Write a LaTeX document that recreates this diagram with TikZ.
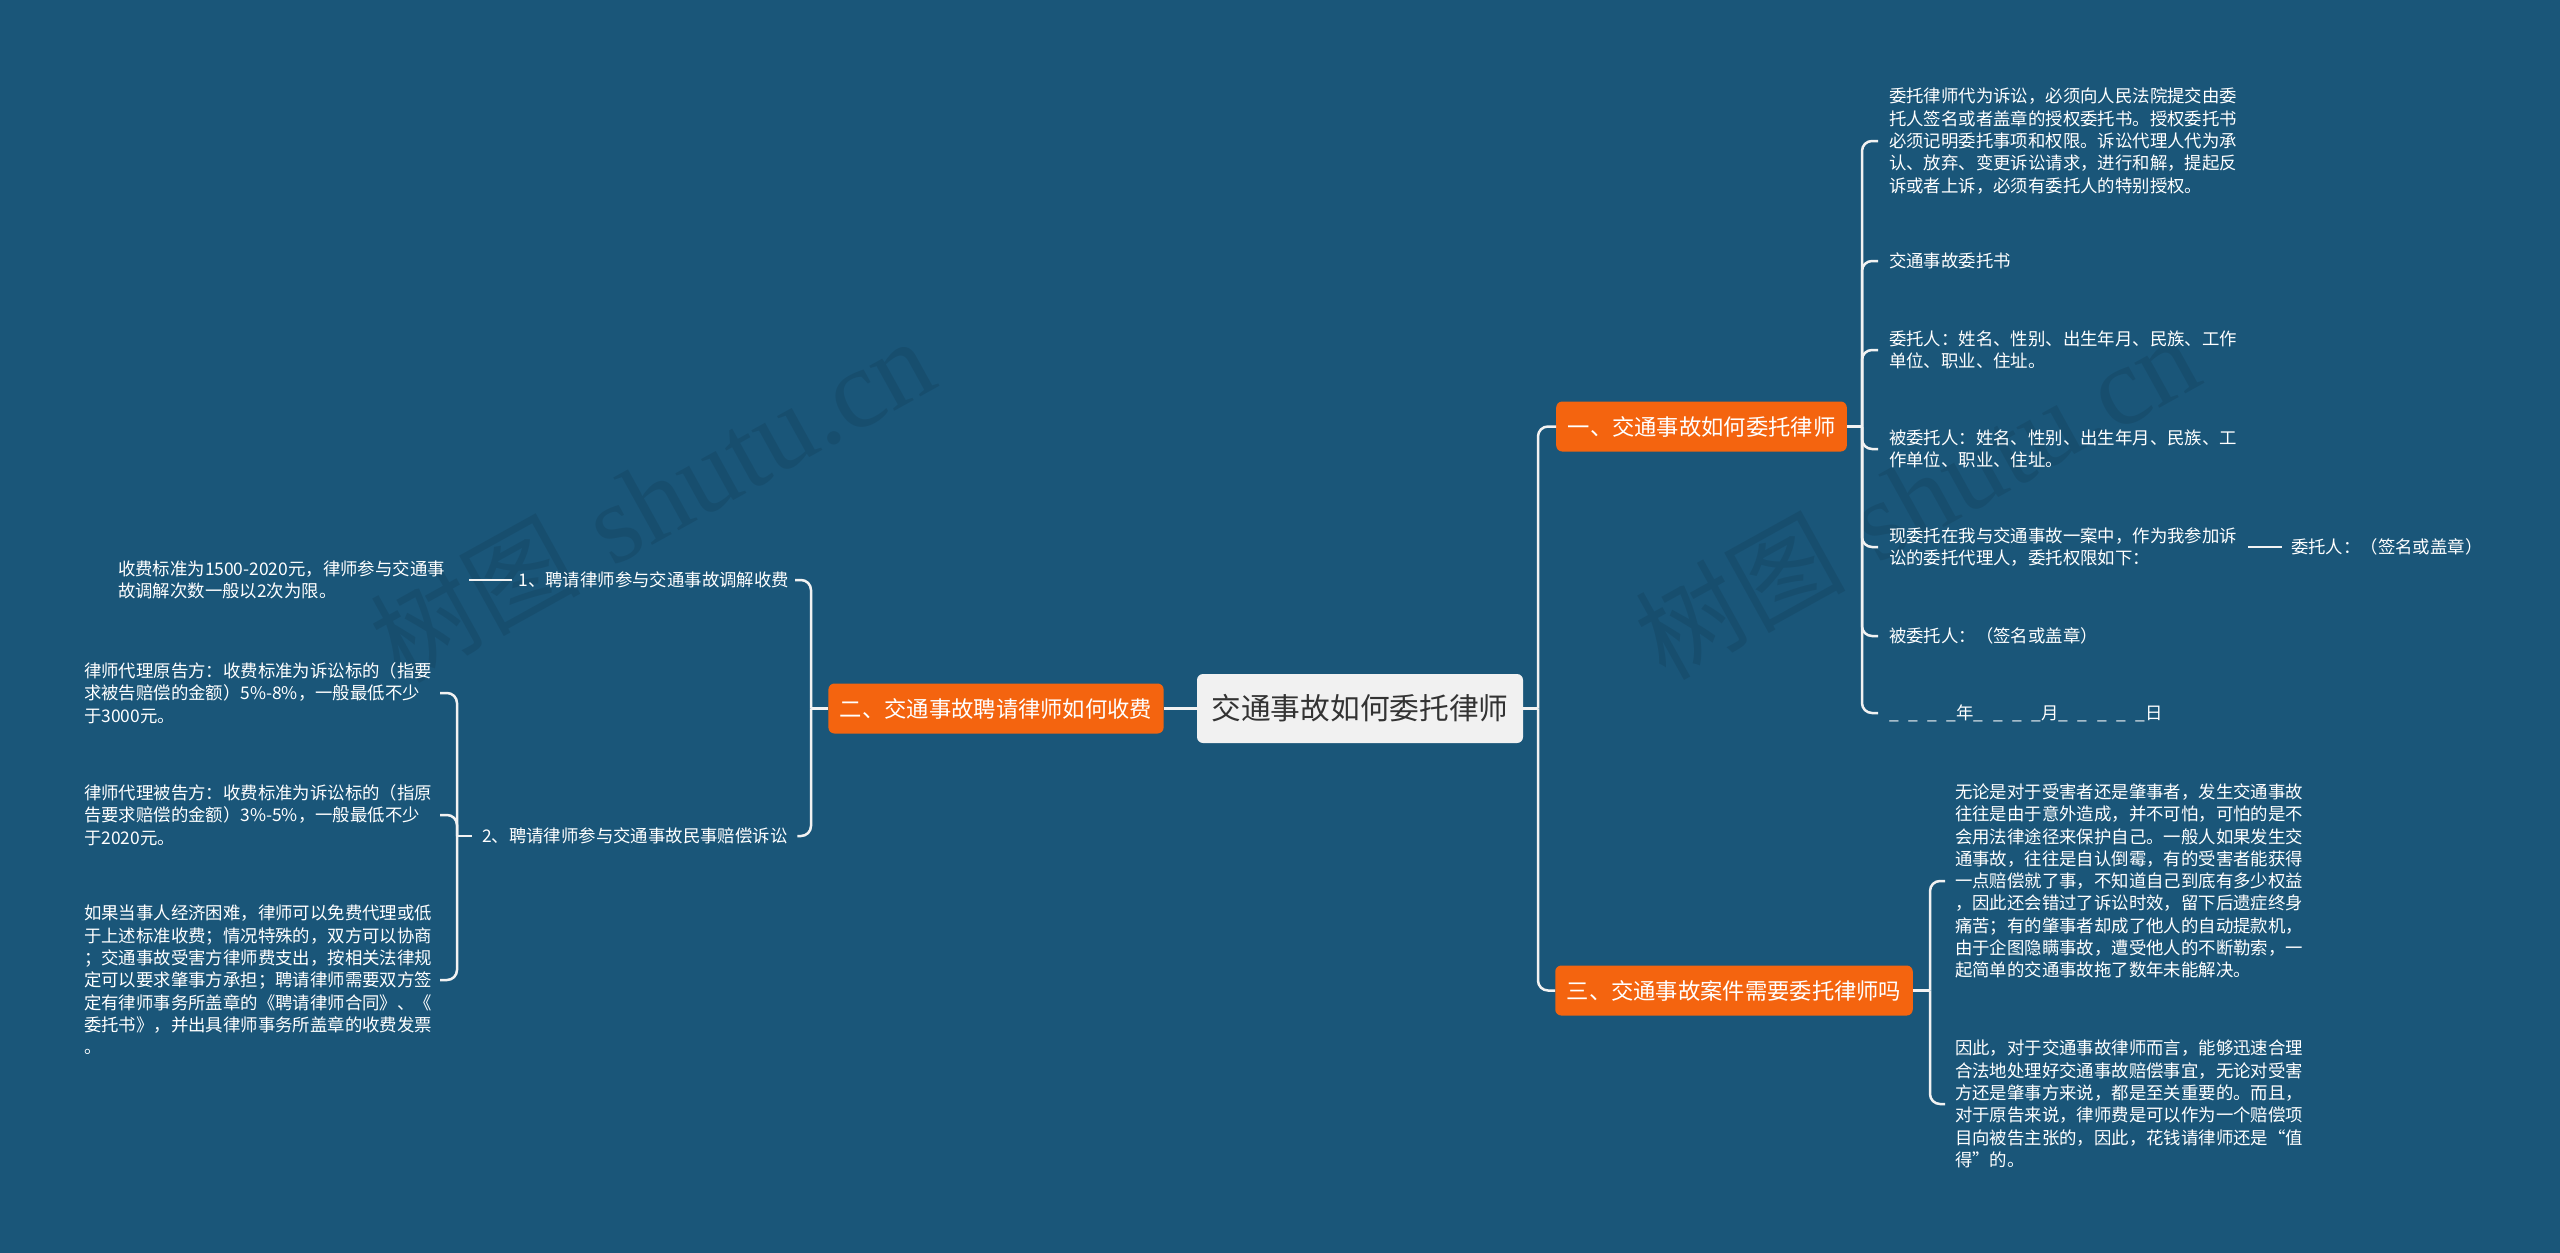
\documentclass[tikz,border=0pt]{standalone}
\usepackage{fontspec}
\newfontfamily\cjk{Noto Sans CJK SC}
\newfontfamily\wmserif{Liberation Serif}
\definecolor{bg}{HTML}{1A5679}
\definecolor{org}{HTML}{F4640F}
\definecolor{rootfill}{HTML}{F1F1F1}
\definecolor{roottext}{HTML}{333333}
\definecolor{linec}{HTML}{F2F2F2}
\newcommand\usc{\_\kern 9.5pt}
\begin{document}
\begin{tikzpicture}[x=1pt,y=-1pt,
  conn/.style={draw=linec, line width=2.5pt, rounded corners=10pt},
  rootbox/.style={fill=rootfill, rounded corners=6pt, minimum width=326pt, minimum height=69pt, inner sep=0pt, text=roottext, font=\cjk\fontsize{29.7}{32}\selectfont},
  branch/.style={fill=org, rounded corners=6pt, minimum height=50pt, inner xsep=11.5pt, inner ysep=0pt, text=white, font=\cjk\fontsize{22.3}{26}\selectfont},
  leaf/.style={inner sep=0pt, text=white, align=left, font=\cjk\fontsize{17.4}{22.3}\selectfont},
  wm/.style={text=black, opacity=0.09, rotate=29, inner sep=0pt}
]
\fill[bg] (0,0) rectangle (2560,1253);
\useasboundingbox (0,0) rectangle (2560,1253);

% watermarks
\node[wm] (wmA) at (652,500) {{\cjk\fontsize{105}{110}\selectfont 树图}\hspace{32pt}{\wmserif\fontsize{112}{120}\selectfont shutu.cn}};
\node[wm] (wmB) at (1917,497) {{\cjk\fontsize{105}{110}\selectfont 树图}\hspace{32pt}{\wmserif\fontsize{112}{120}\selectfont shutu.cn}};

% root and branches
\node[rootbox] (root) at (1360,708.5) {交通事故如何委托律师};
\node[branch] (b1) at (1701.5,426.5) {一、交通事故如何委托律师};
\node[branch] (b2) at (996,708.5) {二、交通事故聘请律师如何收费};
\node[branch] (b3) at (1734,990.5) {三、交通事故案件需要委托律师吗};

\coordinate (jR) at (1538,708.5);
\draw[conn] (root.east) -- (jR);
\draw[conn] (jR) |- (b1.west);
\draw[conn] (jR) |- (b3.west);
\draw[conn] (root.west) -- (b2.east);

% branch 1 leaves
\begin{scope}[every node/.append style={leaf, anchor=west, outer xsep=11pt}]
\node (r1) at (1878,141) {委托律师代为诉讼，必须向人民法院提交由委\\托人签名或者盖章的授权委托书。授权委托书\\必须记明委托事项和权限。诉讼代理人代为承\\认、放弃、变更诉讼请求，进行和解，提起反\\诉或者上诉，必须有委托人的特别授权。};
\node (r2) at (1878,261) {交通事故委托书};
\node (r3) at (1878,350) {委托人：姓名、性别、出生年月、民族、工作\\单位、职业、住址。};
\node (r4) at (1878,449) {被委托人：姓名、性别、出生年月、民族、工\\作单位、职业、住址。};
\node (r5) at (1878,547) {现委托在我与交通事故一案中，作为我参加诉\\讼的委托代理人，委托权限如下：};
\node (r6) at (1878,636) {被委托人：（签名或盖章）};
\node (r7) at (1878,713) {\usc\usc\usc\_年\usc\usc\usc\_月\usc\usc\usc\usc\_日};
\end{scope}
\node[leaf, anchor=west, outer xsep=9pt] (r5a) at (2282,547) {委托人：（签名或盖章）};

\coordinate (j1) at (1862,426.5);
\draw[conn] (b1.east) -- (j1);
\foreach \n in {r1,r2,r3,r4,r5,r6,r7} { \draw[conn] (j1) |- (\n.west); }
\draw[conn] (r5.east) -- (r5a.west);

% branch 3 leaves
\begin{scope}[every node/.append style={leaf, anchor=west, outer xsep=10pt}]
\node (t1) at (1945,881) {无论是对于受害者还是肇事者，发生交通事故\\往往是由于意外造成，并不可怕，可怕的是不\\会用法律途径来保护自己。一般人如果发生交\\通事故，往往是自认倒霉，有的受害者能获得\\一点赔偿就了事，不知道自己到底有多少权益\\，因此还会错过了诉讼时效，留下后遗症终身\\痛苦；有的肇事者却成了他人的自动提款机，\\由于企图隐瞒事故，遭受他人的不断勒索，一\\起简单的交通事故拖了数年未能解决。};
\node (t2) at (1945,1104) {因此，对于交通事故律师而言，能够迅速合理\\合法地处理好交通事故赔偿事宜，无论对受害\\方还是肇事方来说，都是至关重要的。而且，\\对于原告来说，律师费是可以作为一个赔偿项\\目向被告主张的，因此，花钱请律师还是“值\\得”的。};
\end{scope}
\coordinate (j3) at (1930,990.5);
\draw[conn] (b3.east) -- (j3);
\draw[conn] (j3) |- (t1.west);
\draw[conn] (j3) |- (t2.west);

% branch 2 children
\node[leaf, anchor=east, outer xsep=6pt] (c21) at (795,580) {1、聘请律师参与交通事故调解收费};
\node[leaf, anchor=west, outer xsep=10pt] (c22) at (472,836) {2、聘请律师参与交通事故民事赔偿诉讼};
\coordinate (j2) at (811,708.5);
\draw[conn] (b2.west) -- (j2);
\draw[conn] (j2) |- (c21.east);
\draw[conn] (j2) |- (c22.east);

\node[leaf, anchor=west, outer xsep=24pt] (p21) at (94,580) {收费标准为1500-2020元，律师参与交通事\\故调解次数一般以2次为限。};
\draw[conn] (c21.west) -- (p21.east);

\begin{scope}[every node/.append style={leaf, anchor=east, outer xsep=8pt}]
\node (l1) at (440,693) {律师代理原告方：收费标准为诉讼标的（指要\\求被告赔偿的金额）5\%-8\%，一般最低不少\\于3000元。};
\node (l2) at (440,815) {律师代理被告方：收费标准为诉讼标的（指原\\告要求赔偿的金额）3\%-5\%，一般最低不少\\于2020元。};
\node (l3) at (440,980) {如果当事人经济困难，律师可以免费代理或低\\于上述标准收费；情况特殊的，双方可以协商\\；交通事故受害方律师费支出，按相关法律规\\定可以要求肇事方承担；聘请律师需要双方签\\定有律师事务所盖章的《聘请律师合同》、《\\委托书》，并出具律师事务所盖章的收费发票\\。};
\end{scope}
\coordinate (j22) at (457,836);
\draw[conn] (c22.west) -- (j22);
\foreach \n in {l1,l2,l3} { \draw[conn] (j22) |- (\n.east); }
\end{tikzpicture}
\end{document}
